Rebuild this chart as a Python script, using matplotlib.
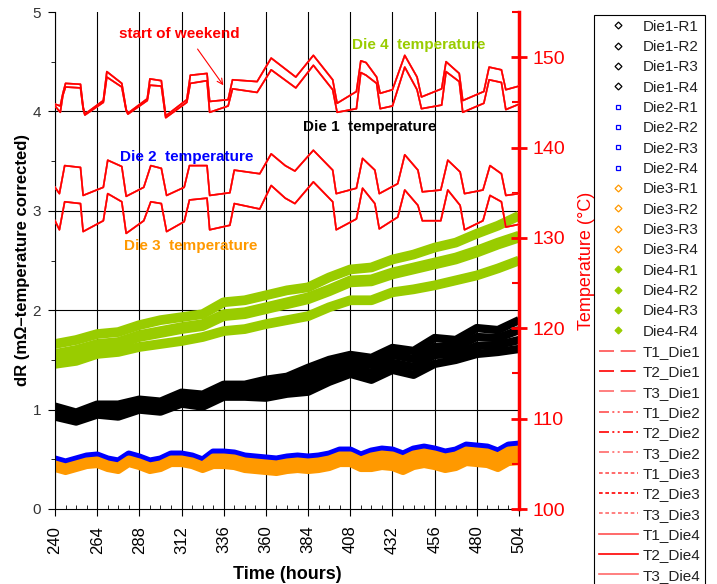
import matplotlib
matplotlib.use("Agg")
import matplotlib.pyplot as plt
from matplotlib.lines import Line2D
from matplotlib.ticker import MultipleLocator

plt.rcParams['font.family'] = ['Liberation Sans', 'DejaVu Sans']

# ---------------- resistance drift (left axis, mOhm) ----------------
HOURS_12 = list(range(240, 505, 12))
HOURS_6 = list(range(240, 505, 6))

die1_r1 = [1.03, 0.97, 1.05, 1.05, 1.10, 1.08, 1.17, 1.15, 1.25, 1.25, 1.30, 1.33,
           1.42, 1.50, 1.55, 1.52, 1.62, 1.59, 1.72, 1.70, 1.82, 1.80, 1.90]
die1_r2 = [1.00, 0.94, 1.02, 1.01, 1.07, 1.05, 1.13, 1.11, 1.21, 1.21, 1.24, 1.27,
           1.34, 1.43, 1.49, 1.45, 1.55, 1.51, 1.63, 1.63, 1.73, 1.72, 1.80]
die1_r3 = [0.96, 0.91, 0.98, 0.97, 1.03, 1.01, 1.09, 1.07, 1.17, 1.17, 1.18, 1.22,
           1.26, 1.35, 1.42, 1.37, 1.47, 1.43, 1.55, 1.56, 1.64, 1.65, 1.70]
die1_r4 = [0.93, 0.88, 0.95, 0.93, 1.00, 0.98, 1.06, 1.03, 1.13, 1.13, 1.12, 1.16,
           1.18, 1.28, 1.36, 1.30, 1.40, 1.35, 1.46, 1.50, 1.56, 1.58, 1.61]

die2_r1 = [0.50, 0.47, 0.50, 0.53, 0.54, 0.50, 0.48, 0.55, 0.52, 0.48, 0.50, 0.55, 0.55, 0.53, 0.49,
           0.57, 0.57, 0.56, 0.53, 0.52, 0.51, 0.50, 0.52, 0.53, 0.52, 0.53, 0.55, 0.59, 0.59, 0.54,
           0.58, 0.60, 0.59, 0.55, 0.60, 0.62, 0.60, 0.57, 0.59, 0.64, 0.63, 0.62, 0.58, 0.64, 0.65]
die2_r2 = [0.49, 0.46, 0.49, 0.52, 0.53, 0.49, 0.47, 0.54, 0.51, 0.47, 0.49, 0.54, 0.54, 0.52, 0.48,
           0.56, 0.56, 0.55, 0.52, 0.51, 0.50, 0.49, 0.51, 0.52, 0.51, 0.52, 0.54, 0.58, 0.58, 0.53,
           0.57, 0.59, 0.58, 0.54, 0.59, 0.61, 0.59, 0.56, 0.58, 0.63, 0.62, 0.61, 0.57, 0.63, 0.64]
die2_r3 = [0.48, 0.45, 0.48, 0.51, 0.52, 0.48, 0.46, 0.53, 0.50, 0.46, 0.48, 0.53, 0.53, 0.51, 0.47,
           0.55, 0.55, 0.54, 0.51, 0.50, 0.49, 0.48, 0.50, 0.51, 0.50, 0.51, 0.53, 0.57, 0.57, 0.52,
           0.56, 0.58, 0.57, 0.53, 0.58, 0.60, 0.58, 0.55, 0.57, 0.62, 0.61, 0.60, 0.56, 0.62, 0.63]
die2_r4 = [0.47, 0.44, 0.47, 0.50, 0.51, 0.47, 0.45, 0.52, 0.49, 0.45, 0.47, 0.52, 0.52, 0.50, 0.46,
           0.54, 0.54, 0.53, 0.50, 0.49, 0.48, 0.47, 0.49, 0.50, 0.49, 0.50, 0.52, 0.56, 0.56, 0.51,
           0.55, 0.57, 0.56, 0.52, 0.57, 0.59, 0.57, 0.54, 0.56, 0.61, 0.60, 0.59, 0.55, 0.61, 0.62]

die3_r1 = [0.45, 0.42, 0.45, 0.48, 0.49, 0.45, 0.43, 0.50, 0.47, 0.43, 0.45, 0.50, 0.50, 0.48, 0.44,
           0.52, 0.52, 0.51, 0.48, 0.47, 0.46, 0.45, 0.47, 0.48, 0.47, 0.48, 0.50, 0.54, 0.54, 0.49,
           0.53, 0.55, 0.54, 0.50, 0.55, 0.57, 0.55, 0.52, 0.54, 0.59, 0.58, 0.57, 0.53, 0.59, 0.60]
die3_r2 = [0.44, 0.41, 0.44, 0.47, 0.48, 0.44, 0.42, 0.49, 0.46, 0.42, 0.44, 0.49, 0.49, 0.47, 0.43,
           0.50, 0.50, 0.49, 0.46, 0.45, 0.44, 0.43, 0.45, 0.46, 0.45, 0.46, 0.48, 0.52, 0.52, 0.47,
           0.49, 0.51, 0.50, 0.46, 0.51, 0.53, 0.51, 0.48, 0.50, 0.55, 0.54, 0.53, 0.49, 0.55, 0.56]
die3_r3 = [0.43, 0.40, 0.43, 0.46, 0.47, 0.43, 0.41, 0.48, 0.45, 0.41, 0.43, 0.48, 0.48, 0.46, 0.42,
           0.47, 0.47, 0.46, 0.43, 0.42, 0.41, 0.40, 0.42, 0.43, 0.42, 0.43, 0.45, 0.49, 0.49, 0.44,
           0.45, 0.47, 0.46, 0.42, 0.47, 0.49, 0.47, 0.44, 0.46, 0.51, 0.50, 0.49, 0.45, 0.51, 0.52]
die3_r4 = [0.41, 0.38, 0.41, 0.44, 0.45, 0.41, 0.39, 0.46, 0.43, 0.39, 0.41, 0.46, 0.46, 0.44, 0.40,
           0.44, 0.44, 0.43, 0.40, 0.39, 0.38, 0.37, 0.39, 0.40, 0.39, 0.40, 0.42, 0.46, 0.46, 0.41,
           0.41, 0.43, 0.42, 0.38, 0.43, 0.45, 0.43, 0.40, 0.42, 0.47, 0.46, 0.45, 0.41, 0.47, 0.48]

die4_r1 = [1.66, 1.70, 1.76, 1.78, 1.85, 1.90, 1.93, 1.96, 2.08, 2.10, 2.15, 2.20,
           2.23, 2.33, 2.41, 2.43, 2.51, 2.56, 2.63, 2.68, 2.77, 2.85, 2.95]
die4_r2 = [1.56, 1.60, 1.66, 1.68, 1.75, 1.79, 1.83, 1.86, 1.96, 1.98, 2.03, 2.08,
           2.13, 2.21, 2.30, 2.31, 2.38, 2.43, 2.48, 2.53, 2.60, 2.68, 2.75]
die4_r3 = [1.54, 1.58, 1.64, 1.66, 1.73, 1.77, 1.81, 1.84, 1.94, 1.96, 2.01, 2.06,
           2.11, 2.19, 2.28, 2.29, 2.36, 2.41, 2.46, 2.51, 2.58, 2.66, 2.73]
die4_r4 = [1.46, 1.49, 1.56, 1.58, 1.63, 1.66, 1.69, 1.73, 1.79, 1.81, 1.86, 1.90,
           1.94, 2.03, 2.10, 2.10, 2.18, 2.21, 2.25, 2.30, 2.35, 2.42, 2.50]

# ---------------- die temperatures (right axis, deg C) ----------------
T_HOURS_HOT = [240, 243, 244.5, 246, 254.5, 256, 257, 267.5, 269.5, 278,
               280.5, 281.5, 292.5, 294, 300.5, 303, 315, 317, 326.5, 328,
               338.5, 341, 355, 363, 377, 387, 398, 400.5, 411.5, 414,
               417, 423, 425, 432, 439, 446, 448.5, 460, 462.5, 470,
               472, 484, 487, 494, 496.5, 504]
temp_die4 = [144.8, 144.6, 146.0, 147.1, 147.0, 144.5, 143.7, 145.2, 148.4, 147.1,
             144.2, 143.8, 145.4, 147.6, 147.4, 143.5, 145.3, 148.0, 148.2, 145.1,
             145.3, 147.5, 147.3, 149.9, 147.8, 150.2, 147.5, 144.9, 146.2, 149.6,
             149.4, 147.8, 146.0, 146.4, 150.2, 147.8, 145.6, 146.5, 149.5, 148.2,
             145.2, 146.2, 148.9, 148.6, 146.4, 146.8]
temp_die1 = [144.6, 143.9, 145.8, 146.7, 146.6, 144.3, 143.6, 145.0, 147.8, 146.7,
             144.1, 143.7, 145.2, 146.9, 146.8, 143.3, 145.0, 147.1, 147.4, 143.9,
             144.6, 146.5, 146.1, 148.6, 146.6, 149.1, 146.4, 143.9, 144.3, 148.3,
             148.0, 147.1, 144.3, 144.6, 148.9, 146.4, 144.3, 144.7, 148.4, 147.3,
             143.9, 144.9, 147.5, 147.2, 144.2, 144.8]

T_HOURS_COOL = [240, 242.5, 245.5, 254.5, 256, 267.5, 270, 278, 280.5, 290.5,
                294.5, 300.5, 303.5, 313.5, 316.5, 326.5, 328, 339.5, 342, 356.5,
                363, 371, 376.5, 387, 398, 400, 411.5, 415, 422, 424.5,
                435, 439, 446.5, 449, 459.5, 463.5, 470.5, 473, 483.5, 487.5,
                494, 496.5, 504]
temp_die2 = [135.6, 134.9, 138.0, 137.8, 134.7, 135.6, 138.6, 137.9, 134.6, 135.6,
             138.0, 137.7, 134.7, 135.6, 138.0, 138.0, 134.7, 135.0, 137.5, 137.1,
             139.3, 138.0, 137.4, 139.7, 137.5, 134.9, 135.5, 138.8, 137.5, 134.9,
             136.0, 139.2, 137.5, 135.1, 135.3, 138.6, 137.3, 134.9, 135.3, 138.0,
             137.1, 134.7, 134.9]
temp_die3 = [131.9, 130.9, 134.0, 133.8, 130.7, 131.9, 134.9, 134.0, 130.5, 131.9,
             134.0, 133.8, 130.7, 131.8, 134.2, 134.4, 130.9, 131.4, 133.8, 133.2,
             135.8, 134.4, 133.8, 136.2, 134.0, 130.9, 132.1, 135.5, 133.8, 131.0,
             132.3, 135.3, 133.6, 131.9, 131.9, 135.3, 133.6, 130.9, 131.9, 134.7,
             134.0, 131.2, 131.5]

X_TICKS = list(range(240, 505, 24))
DR_TICKS = [0, 1, 2, 3, 4, 5]
DR_GRID = [1, 2, 3, 4]
T_TICKS = [100, 110, 120, 130, 140, 150]

# ---------------- styling ----------------
GREEN = '#99cc00'
ORANGE = '#ff9900'
BLUE = '#0000ff'
RED = '#ff0000'
SENSOR_COLORS = ['#ff5050', '#ff0000', '#ff6a6a']
SENSOR_Z = [3.0, 3.2, 3.1]

resistance_sets = [
    ('Die1', HOURS_12, [die1_r1, die1_r2, die1_r3, die1_r4], 'black', 6.0,
     dict(marker='D', mfc='white', mec='black')),
    ('Die2', HOURS_6, [die2_r1, die2_r2, die2_r3, die2_r4], BLUE, 5.5,
     dict(marker='s', mfc='white', mec=BLUE)),
    ('Die3', HOURS_6, [die3_r1, die3_r2, die3_r3, die3_r4], ORANGE, 5.5,
     dict(marker='D', mfc='white', mec=ORANGE)),
    ('Die4', HOURS_12, [die4_r1, die4_r2, die4_r3, die4_r4], GREEN, 7.0,
     dict(marker='D', mfc=GREEN, mec=GREEN)),
]
temperature_sets = [
    ('Die1', T_HOURS_HOT, temp_die1, (0, (9, 4))),
    ('Die2', T_HOURS_COOL, temp_die2, (0, (6, 2, 1.2, 2, 1.2, 2))),
    ('Die3', T_HOURS_COOL, temp_die3, (0, (2.2, 1.6))),
    ('Die4', T_HOURS_HOT, temp_die4, '-'),
]

fig = plt.figure(figsize=(7.17, 5.84), dpi=100)
ax = fig.add_axes([55 / 717, 75 / 584, 464 / 717, 497 / 584])
ax2 = ax.twinx()

handles, labels = [], []

for die, hours, series, color, lw, mk in resistance_sets:
    for i, vals in enumerate(series, start=1):
        ax.plot(hours, vals, color=color, lw=lw, solid_capstyle='butt',
                solid_joinstyle='round', zorder=2)
        handles.append(Line2D([], [], ls='none', ms=3.5, mew=0.9, **mk))
        labels.append(f'{die}-R{i}')

for die, hours, temps, style in temperature_sets:
    for k, (c, z) in enumerate(zip(SENSOR_COLORS, SENSOR_Z), start=1):
        ax2.plot(hours, temps, color=c, lw=1.2, zorder=z)
        handles.append(Line2D([], [], color=c, lw=1.2, ls=style))
        labels.append(f'T{k}_{die}')

# left axis
ax.set_xlim(240, 504)
ax.set_ylim(0, 5)
ax.set_xticks(X_TICKS)
ax.set_yticks(DR_TICKS)
ax.xaxis.set_minor_locator(MultipleLocator(6))
ax.yaxis.set_minor_locator(MultipleLocator(0.5))
ax.set_axisbelow(True)
ax.grid(axis='x', color='black', lw=0.8, zorder=0.5)
for g in DR_GRID:
    ax.axhline(g, color='black', lw=0.8, zorder=0.5)
ax.spines['top'].set_visible(False)
ax.spines['right'].set_visible(False)
ax.tick_params(axis='x', which='major', direction='out', length=5, labelsize=12,
               labelrotation=90, pad=7)
ax.tick_params(axis='x', which='minor', direction='in', length=3)
ax.tick_params(axis='y', which='major', direction='out', length=5, labelsize=11,
               labelcolor='#333333', pad=5)
ax.tick_params(axis='y', which='minor', direction='out', length=3)
ax.set_ylabel('dR (mΩ–temperature corrected)', fontsize=12, fontweight='bold',
              labelpad=2)
ax.set_xlabel('Time (hours)', fontsize=13, fontweight='bold', labelpad=9)

# right axis
ax2.set_ylim(100, 155)
ax2.set_yticks(T_TICKS)
ax2.yaxis.set_minor_locator(MultipleLocator(5))
for side in ('top', 'left', 'bottom'):
    ax2.spines[side].set_visible(False)
ax2.spines['right'].set_color(RED)
ax2.spines['right'].set_linewidth(2.5)
ax2.tick_params(axis='y', which='major', direction='inout', length=12, width=2,
                color=RED, labelcolor=RED, labelsize=14, pad=4)
ax2.tick_params(axis='y', which='minor', direction='in', length=5, width=1.5,
                color=RED)
ax2.set_ylabel('Temperature (°C)', color=RED, fontsize=13, labelpad=9)

# annotations
ax.text(311, 4.78, 'start of weekend', color=RED, fontsize=11, fontweight='bold',
        ha='center', va='center')
ax.annotate('', xy=(336.7, 4.24), xytext=(320.2, 4.65),
            arrowprops=dict(arrowstyle='->', color=RED, lw=0.8))
ax.text(447, 4.67, 'Die 4  temperature', color=GREEN, fontsize=11,
        fontweight='bold', ha='center', va='center')
ax.text(419, 3.84, 'Die 1  temperature', color='black', fontsize=11,
        fontweight='bold', ha='center', va='center')
ax.text(315, 3.54, 'Die 2  temperature', color=BLUE, fontsize=11,
        fontweight='bold', ha='center', va='center')
ax.text(317, 2.65, 'Die 3  temperature', color=ORANGE, fontsize=11,
        fontweight='bold', ha='center', va='center')

leg = fig.legend(handles, labels, loc='upper left',
                 bbox_to_anchor=(594 / 717, 1 - 15 / 584),
                 bbox_transform=fig.transFigure, frameon=True, fancybox=False,
                 edgecolor='black', framealpha=1, fontsize=11, labelspacing=0.415,
                 handlelength=2.6, handletextpad=0.3, borderpad=0.3,
                 borderaxespad=0)
leg.get_frame().set_linewidth(0.8)
for t in leg.get_texts():
    t.set_color('#222222')

fig.savefig('out.png', dpi=100)
